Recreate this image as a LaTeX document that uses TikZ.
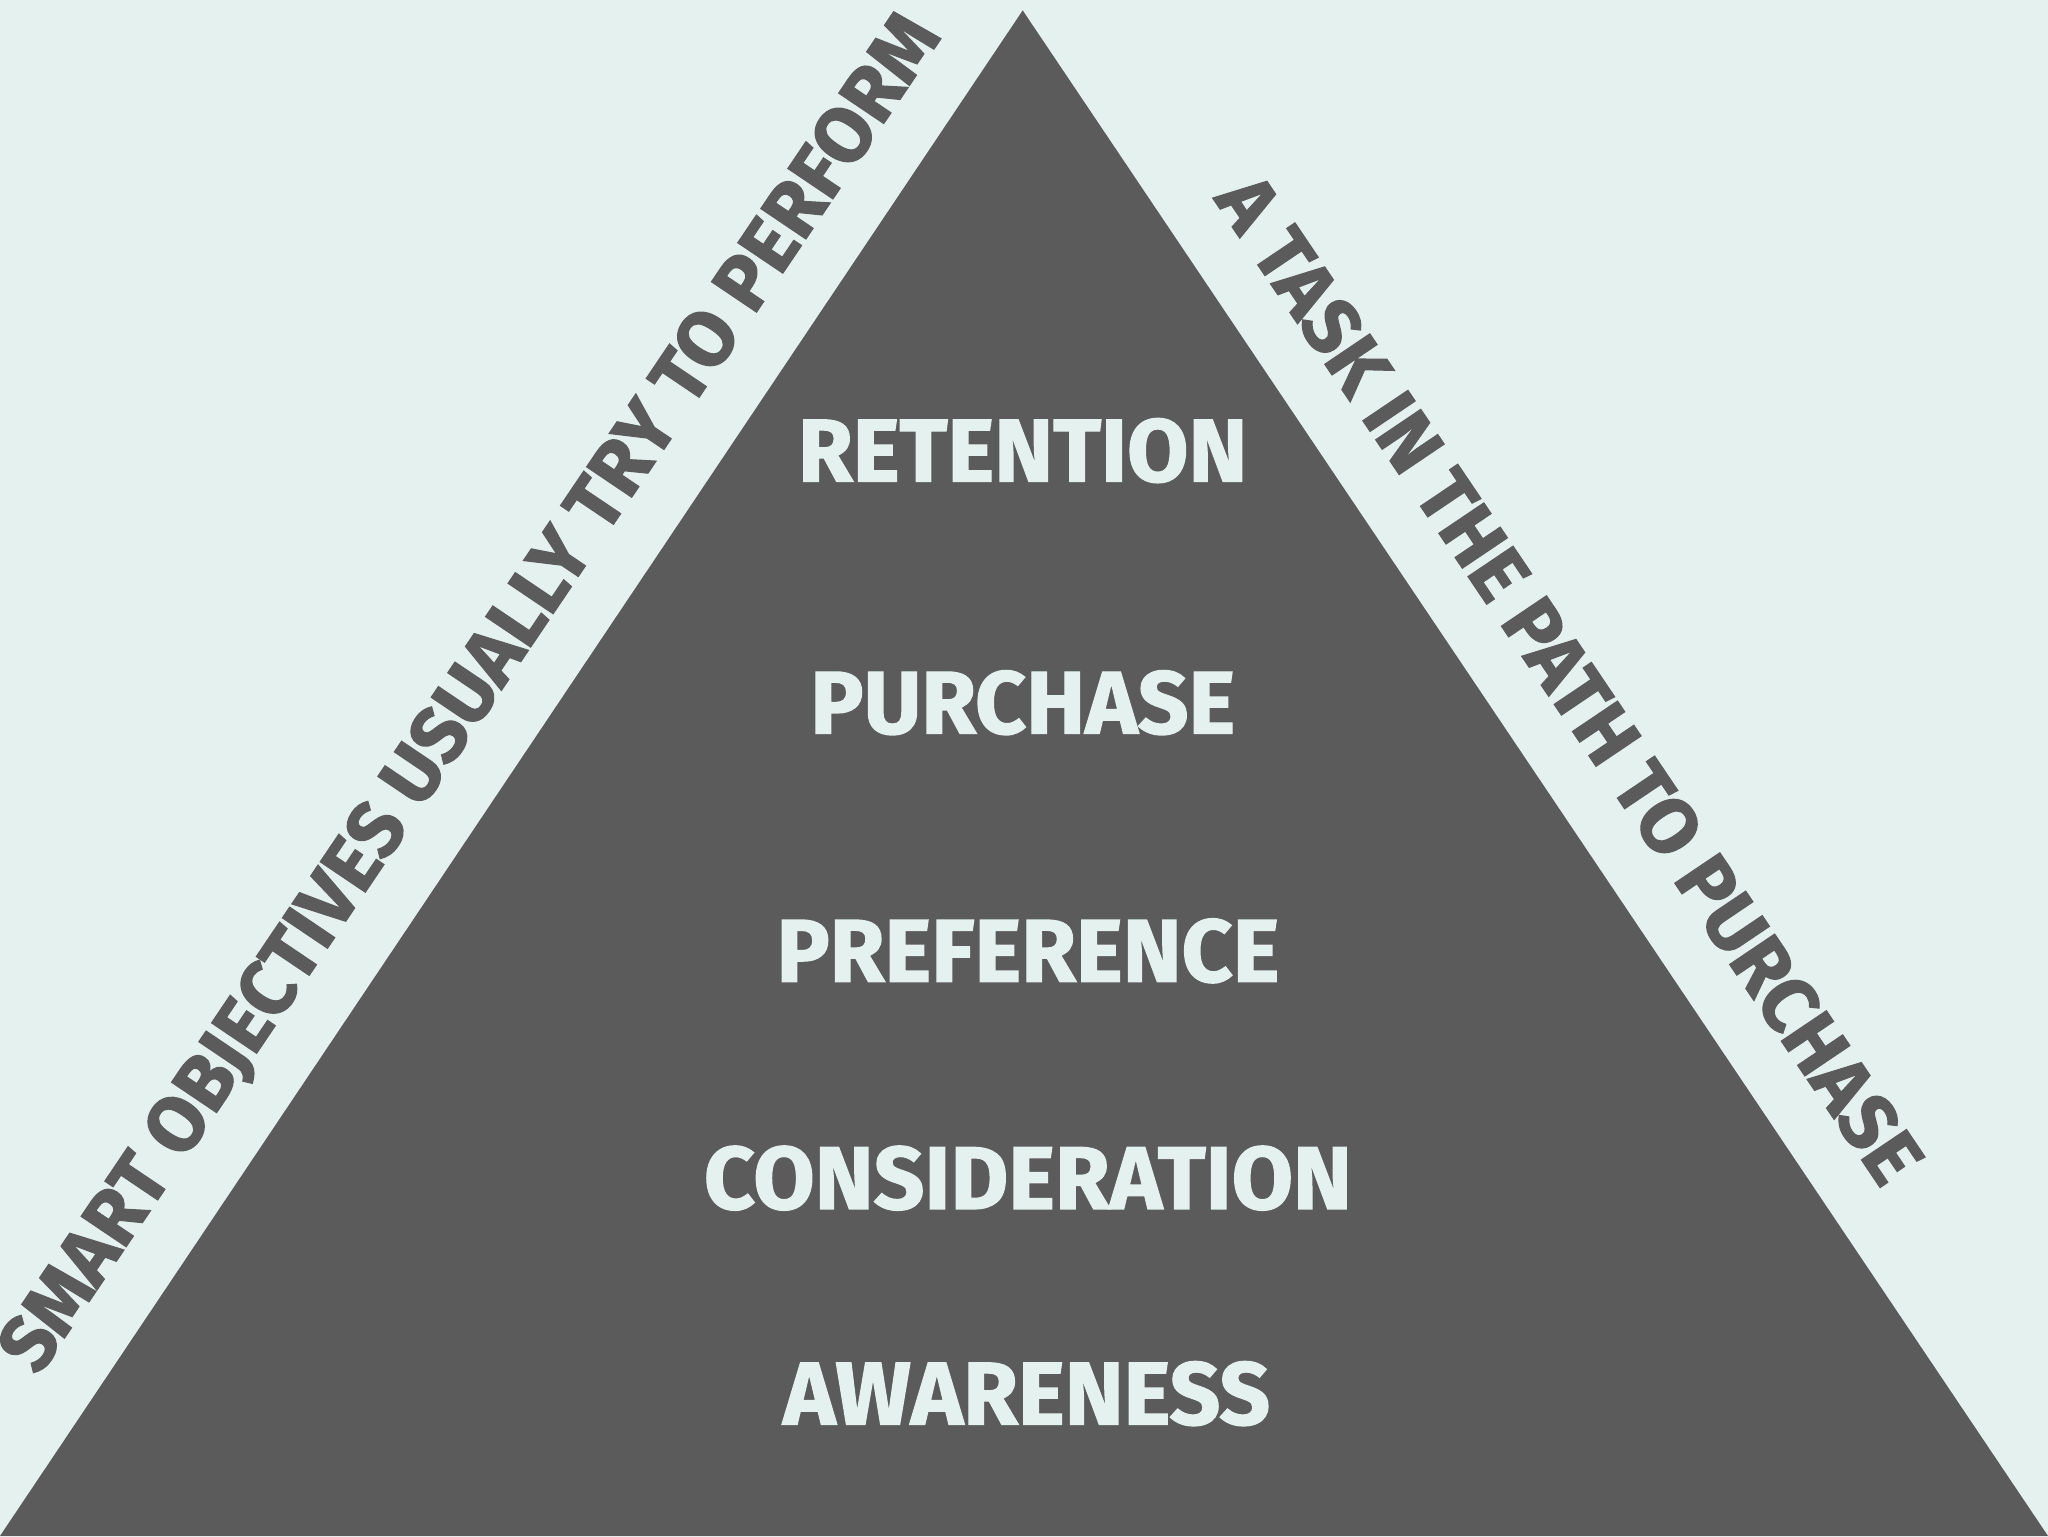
\documentclass[tikz,border=0pt]{standalone}
\usepackage{fontspec}
\usepackage{graphicx}
\setmainfont{Fira Sans}[BoldFeatures={FakeBold=1.5}]
\definecolor{bg}{HTML}{E4F1EE}
\definecolor{pyr}{HTML}{5B5B5B}
\begin{document}
\begin{tikzpicture}[x=1pt,y=1pt,
  lvl/.style={text=bg,font=\fontsize{68}{68}\selectfont\bfseries},
  side/.style={text=pyr,font=\fontsize{60}{60}\selectfont\bfseries,inner sep=0pt}]
\fill[bg] (0,0) rectangle (1568,1176);
\useasboundingbox (0,0) rectangle (1568,1176);
\coordinate (apex) at (783,1168);
\coordinate (bl) at (0,0);
\coordinate (br) at (1568,0);
\fill[pyr] (apex) -- (br) -- (bl) -- cycle;
\node[lvl] (ret) at (783,831) {RETENTION};
\node[lvl] (pur) at (783,638) {PURCHASE};
\node[lvl] (pre) at (787,448) {PREFERENCE};
\node[lvl] (con) at (787,274) {CONSIDERATION};
\node[lvl] (awa) at (786,109) {AWARENESS};
\node[side] (lt) at (362,644) {\rotatebox{56}{SMART OBJECTIVES USUALLY TRY TO PERFORM}};
\node[side] (rt) at (1202,656) {\rotatebox{-56}{A TASK IN THE PATH TO PURCHASE}};
\end{tikzpicture}
\end{document}
